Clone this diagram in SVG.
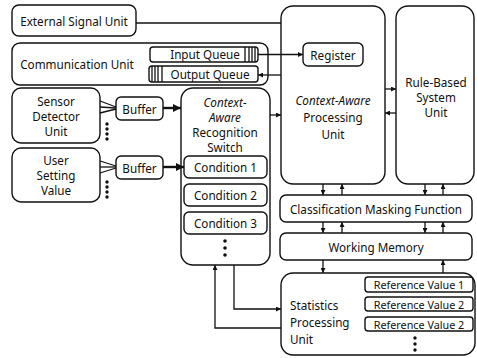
<svg xmlns="http://www.w3.org/2000/svg" width="477" height="358" viewBox="0 0 477 358">
<defs>
<marker id="a" viewBox="0 0 8 8" refX="8" refY="4" markerWidth="5" markerHeight="5" orient="auto-start-reverse" markerUnits="userSpaceOnUse"><path d="M0,0 L8,4 L0,8 z" fill="#111"/></marker>
<marker id="b" viewBox="0 0 8 8" refX="8" refY="4" markerWidth="8" markerHeight="8" orient="auto" markerUnits="userSpaceOnUse"><path d="M0,0 L8,4 L0,8 z" fill="#111"/></marker>
</defs>
<style>
rect{fill:#fff;stroke:#111;stroke-width:1.4}
line,path.c{stroke:#111;stroke-width:1.3;fill:none}
text{font-family:"Noto Sans","Open Sans",sans-serif;font-size:11.7px;fill:#111;text-anchor:middle;dominant-baseline:central}
.l{text-anchor:start}
.i{font-style:italic}
.s{font-size:10.8px}
.d{fill:#111;stroke:none}
</style>
<rect x="0" y="0" width="477" height="358" style="stroke:none"/>
<g id="external-signal-unit"><rect x="12" y="5" width="124" height="31" rx="7"/><text x="74" y="21">External Signal Unit</text></g>
<g id="communication-unit"><rect x="12" y="43" width="256" height="42" rx="8"/><text x="77" y="64">Communication Unit</text>
<g id="input-queue"><rect x="150" y="47" width="108" height="15" rx="3"/><text x="205" y="54">Input Queue</text><line x1="245" y1="47" x2="245" y2="62"/><line x1="249" y1="47" x2="249" y2="62"/><line x1="252" y1="47" x2="252" y2="62"/><line x1="255" y1="47" x2="255" y2="62"/></g>
<g id="output-queue"><rect x="149" y="66" width="109" height="16" rx="3"/><text x="210" y="74">Output Queue</text><line x1="152" y1="66" x2="152" y2="82"/><line x1="155" y1="66" x2="155" y2="82"/><line x1="158" y1="66" x2="158" y2="82"/><line x1="162" y1="66" x2="162" y2="82"/></g>
</g>
<g id="sensor-detector-unit"><rect x="12" y="88" width="88" height="55" rx="9"/><text x="56" y="101">Sensor</text><text x="56" y="116">Detector</text><text x="56" y="131">Unit</text>
<circle class="d" cx="107" cy="124" r="1.7"/><circle class="d" cx="107" cy="129" r="1.7"/><circle class="d" cx="107" cy="134" r="1.7"/><circle class="d" cx="107" cy="139" r="1.7"/></g>
<g id="user-setting-value"><rect x="12" y="148" width="88" height="54" rx="9"/><text x="56" y="160">User</text><text x="56" y="175">Setting</text><text x="56" y="190">Value</text>
<circle class="d" cx="107" cy="182" r="1.7"/><circle class="d" cx="107" cy="187" r="1.7"/><circle class="d" cx="107" cy="192" r="1.7"/><circle class="d" cx="107" cy="197" r="1.7"/></g>
<g id="buffer-1"><rect x="116" y="97" width="47" height="23" rx="5"/><text x="139.5" y="108.5">Buffer</text></g>
<g id="buffer-2"><rect x="116" y="156" width="47" height="23" rx="5"/><text x="139.5" y="167.5">Buffer</text></g>
<g id="context-aware-recognition-switch"><rect x="181" y="88" width="89" height="177" rx="12"/>
<text class="i" x="225" y="102">Context-</text><text class="i" x="225" y="117">Aware</text><text x="225" y="132">Recognition</text><text x="225" y="147">Switch</text>
<g id="condition-1"><rect x="184" y="156" width="83" height="22" rx="5"/><text x="225.5" y="167">Condition 1</text></g>
<g id="condition-2"><rect x="184" y="184" width="83" height="22" rx="5"/><text x="225.5" y="195">Condition 2</text></g>
<g id="condition-3"><rect x="184" y="212" width="83" height="22" rx="5"/><text x="225.5" y="223">Condition 3</text></g>
<circle class="d" cx="225" cy="241" r="1.8"/><circle class="d" cx="225" cy="248" r="1.8"/><circle class="d" cx="225" cy="255" r="1.8"/></g>
<g id="context-aware-processing-unit"><rect x="281" y="6" width="104" height="178" rx="12"/><text class="i" x="333" y="100">Context-Aware</text><text x="333" y="117">Processing</text><text x="333" y="134">Unit</text>
<g id="register"><rect x="303" y="43" width="60" height="23" rx="5"/><text x="333" y="54.5">Register</text></g></g>
<g id="rule-based-system-unit"><rect x="396" y="6" width="78" height="178" rx="12"/><text x="436" y="82">Rule-Based</text><text x="436" y="97">System</text><text x="436" y="112">Unit</text></g>
<g id="classification-masking-function"><rect x="280" y="195" width="192" height="27" rx="6"/><text x="376" y="208.5">Classification Masking Function</text></g>
<g id="working-memory"><rect x="280" y="233" width="192" height="27" rx="6"/><text x="376" y="246.5">Working Memory</text></g>
<g id="statistics-processing-unit"><rect x="281" y="273" width="194" height="82" rx="12"/><text class="l" x="290" y="305">Statistics</text><text class="l" x="290" y="322">Processing</text><text class="l" x="290" y="339">Unit</text>
<g id="reference-value-1"><rect x="365" y="277" width="108" height="15" rx="3"/><text class="s" x="419" y="284.5">Reference Value 1</text></g>
<g id="reference-value-2"><rect x="365" y="297" width="108" height="14" rx="3"/><text class="s" x="419" y="304">Reference Value 2</text></g>
<g id="reference-value-3"><rect x="365" y="317" width="108" height="14" rx="3"/><text class="s" x="419" y="324">Reference Value 2</text></g>
<circle class="d" cx="415" cy="338" r="1.7"/><circle class="d" cx="415" cy="344" r="1.7"/><circle class="d" cx="415" cy="350" r="1.7"/></g>
<g id="connectors">
<line x1="136" y1="23" x2="281" y2="23"/>
<line x1="258" y1="54.5" x2="303" y2="54.5" marker-end="url(#a)"/>
<line x1="281" y1="75" x2="258" y2="75" marker-end="url(#a)"/>
<line x1="100" y1="101" x2="116" y2="107"/>
<line x1="100" y1="107" x2="116" y2="108"/>
<line x1="100" y1="113" x2="116" y2="109"/>
<line x1="100" y1="161" x2="116" y2="166"/>
<line x1="100" y1="167" x2="116" y2="167"/>
<line x1="100" y1="173" x2="116" y2="168"/>
<line x1="163" y1="108" x2="181" y2="108" style="stroke-width:2.4" marker-end="url(#b)"/>
<line x1="163" y1="167" x2="184" y2="167" style="stroke-width:2.4" marker-end="url(#b)"/>
<line x1="270" y1="115" x2="281" y2="115" marker-end="url(#a)"/>
<line x1="385" y1="89" x2="396" y2="89" marker-end="url(#a)"/>
<line x1="396" y1="113" x2="385" y2="113" marker-end="url(#a)"/>
<line x1="323" y1="184" x2="323" y2="195" marker-end="url(#a)"/>
<line x1="342" y1="195" x2="342" y2="184" marker-end="url(#a)"/>
<line x1="425" y1="184" x2="425" y2="195" marker-end="url(#a)"/>
<line x1="443" y1="195" x2="443" y2="184" marker-end="url(#a)"/>
<line x1="323" y1="222" x2="323" y2="233" marker-end="url(#a)"/>
<line x1="342" y1="233" x2="342" y2="222" marker-end="url(#a)"/>
<line x1="425" y1="222" x2="425" y2="233" marker-end="url(#a)"/>
<line x1="443" y1="233" x2="443" y2="222" marker-end="url(#a)"/>
<line x1="323" y1="260" x2="323" y2="273" marker-end="url(#a)"/>
<line x1="443" y1="273" x2="443" y2="260" marker-end="url(#a)"/>
<path class="c" d="M281,328 H215 V265" marker-end="url(#a)"/>
<path class="c" d="M234,265 V309 H281" marker-end="url(#a)"/>
</g>
</svg>
